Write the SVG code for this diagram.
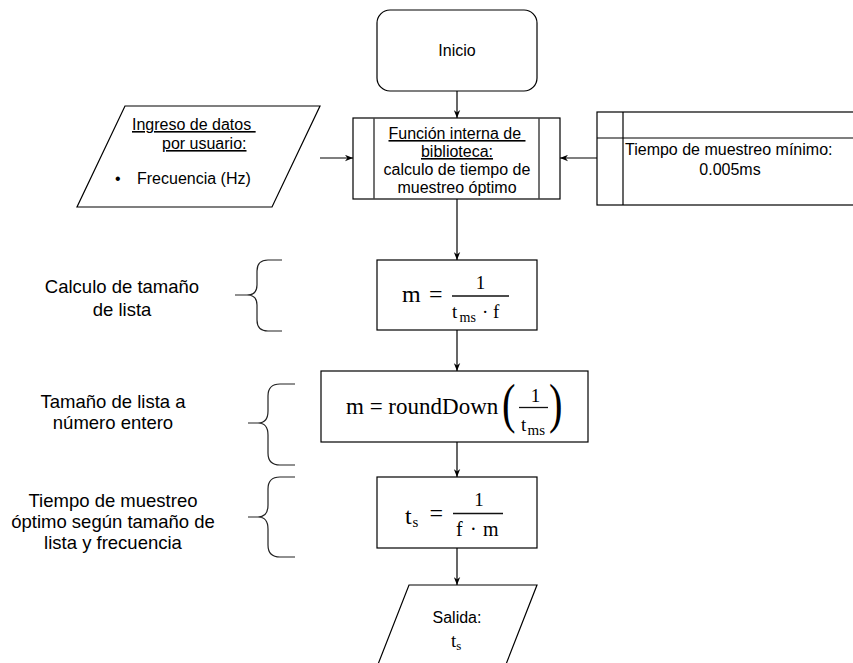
<svg xmlns="http://www.w3.org/2000/svg" width="853" height="663" viewBox="0 0 853 663">
  <defs>
    <marker id="arrow" viewBox="0 0 10 8" refX="10" refY="4" markerWidth="8" markerHeight="7" markerUnits="userSpaceOnUse" orient="auto">
      <path d="M0,0 L10,4 L0,8 L3,4 z" fill="#000"/>
    </marker>
    <style>
      .box { fill: #fff; stroke: #000; stroke-width: 1.2; }
      .line { fill: none; stroke: #000; stroke-width: 1.2; }
      .bar { fill: none; stroke: #111; stroke-width: 1.3; }
      .inner { fill: none; stroke: #444; stroke-width: 1.5; }
      .brace { fill: none; stroke: #222; stroke-width: 1.2; }
      .edge { fill: none; stroke: #000; stroke-width: 1.2; marker-end: url(#arrow); }
      .t { font-family: "Liberation Sans", Arial, sans-serif; font-size: 16px; fill: #000; }
      .lbl { font-family: "Liberation Sans", Arial, sans-serif; font-size: 18.5px; fill: #000; text-anchor: middle; }
      .m { font-family: "Liberation Serif", "Times New Roman", serif; fill: #000; }
      .u { text-decoration: underline; }
      .c { text-anchor: middle; }
    </style>
  </defs>

  <rect width="853" height="663" fill="#fff"/>

  <!-- connectors -->
  <g id="connectors">
    <line class="edge" x1="457" y1="91" x2="457" y2="118"/>
    <line class="edge" x1="320" y1="158" x2="353" y2="158"/>
    <line class="edge" x1="597" y1="158" x2="560" y2="158"/>
    <line class="edge" x1="457" y1="199" x2="457" y2="260"/>
    <line class="edge" x1="457" y1="330" x2="457" y2="371"/>
    <line class="edge" x1="457" y1="442" x2="457" y2="477"/>
    <line class="edge" x1="457" y1="548" x2="457" y2="585"/>
  </g>

  <!-- start -->
  <g id="inicio">
    <rect class="box" x="377" y="10" width="160" height="81" rx="13"/>
    <text class="t c" x="457" y="56">Inicio</text>
  </g>

  <!-- user input -->
  <g id="ingreso">
    <polygon class="box" points="125,106 320,106 272,207 77,207"/>
    <text class="t u" x="132" y="130">Ingreso de datos&#160;</text>
    <text class="t u" x="162" y="149">por usuario:</text>
    <text class="t" x="115" y="184">•</text>
    <text class="t" x="137" y="184">Frecuencia (Hz)</text>
  </g>

  <!-- library function -->
  <g id="funcion">
    <rect class="box" x="353" y="118" width="207" height="81"/>
    <line class="inner" x1="374" y1="118" x2="374" y2="199"/>
    <line class="inner" x1="539" y1="118" x2="539" y2="199"/>
    <text class="t c" x="457" y="139"><tspan class="u">Función interna de&#160;</tspan></text>
    <text class="t c" x="457" y="157"><tspan class="u">biblioteca:</tspan></text>
    <text class="t c" x="457" y="175">calculo de tiempo de</text>
    <text class="t c" x="457" y="193">muestreo óptimo</text>
  </g>

  <!-- minimum sampling time -->
  <g id="tiempo-minimo">
    <rect class="box" x="597" y="112" width="270" height="93"/>
    <line class="line" x1="623" y1="112" x2="623" y2="205"/>
    <line class="line" x1="597" y1="138" x2="867" y2="138"/>
    <text class="t" x="625" y="155">Tiempo de muestreo mínimo:</text>
    <text class="t c" x="730" y="175">0.005ms</text>
  </g>

  <!-- list size: m = 1 / (t_ms · f) -->
  <g id="tamano-lista">
    <text class="lbl" x="122" y="293">Calculo de tamaño</text>
    <text class="lbl" x="122" y="316">de lista</text>
    <path class="brace" d="M282,260 H268 Q257,260 257,271 V285 Q257,295 247,295 H235 M247,295 Q257,295 257,305 V320 Q257,331 268,331 H282"/>
    <rect class="box" x="377" y="260" width="160" height="70"/>
    <text class="m" x="402" y="302" font-size="24">m</text>
    <text class="m" x="429" y="302" font-size="24">=</text>
    <line class="bar" x1="452" y1="296" x2="509" y2="296"/>
    <text class="m c" x="480.5" y="288.5" font-size="19">1</text>
    <text class="m" x="452" y="318" font-size="19">t</text>
    <text class="m" x="459.5" y="322" font-size="14">ms</text>
    <text class="m" x="482" y="318" font-size="19">·</text>
    <text class="m" x="493" y="318" font-size="19">f</text>
  </g>

  <!-- integer list size: m = roundDown(1 / t_ms) -->
  <g id="entero">
    <text class="lbl" x="113" y="408">Tamaño de lista a</text>
    <text class="lbl" x="113" y="429">número entero</text>
    <path class="brace" d="M295,384 H280 Q268,384 268,396 V411 Q268,423 258,423 H248 M258,423 Q268,423 268,435 V453 Q268,465 280,465 H295"/>
    <rect class="box" x="321" y="371" width="267" height="71"/>
    <text class="m" x="346" y="414" font-size="23">m = roundDown</text>
    <text class="m" transform="translate(502,422) scale(0.75,1)" font-size="54">(</text>
    <line class="bar" x1="519" y1="407.5" x2="548" y2="407.5"/>
    <text class="m c" x="535.5" y="402" font-size="19">1</text>
    <text class="m" x="521" y="431" font-size="19">t</text>
    <text class="m" x="527.5" y="434.5" font-size="15">ms</text>
    <text class="m" transform="translate(549,422) scale(0.75,1)" font-size="54">)</text>
  </g>

  <!-- optimal sampling time: t_s = 1 / (f · m) -->
  <g id="tiempo-optimo">
    <text class="lbl" x="113" y="507">Tiempo de muestreo</text>
    <text class="lbl" x="113" y="528">óptimo según tamaño de</text>
    <text class="lbl" x="113" y="549">lista y frecuencia</text>
    <path class="brace" d="M295,477 H280 Q268,477 268,489 V505 Q268,517 258,517 H248 M258,517 Q268,517 268,529 V545 Q268,557 280,557 H295"/>
    <rect class="box" x="377" y="477" width="160" height="71"/>
    <text class="m" x="405" y="524" font-size="24">t</text>
    <text class="m" x="412.5" y="527" font-size="15">s</text>
    <text class="m" x="429.5" y="521" font-size="24">=</text>
    <line class="bar" x1="453" y1="513.5" x2="503" y2="513.5"/>
    <text class="m c" x="479" y="505.5" font-size="19">1</text>
    <text class="m" x="456" y="535.5" font-size="20">f</text>
    <text class="m" x="470" y="535.5" font-size="20">·</text>
    <text class="m" x="483" y="535.5" font-size="20">m</text>
  </g>

  <!-- output -->
  <g id="salida">
    <polygon class="box" points="409,585 537,585 503,672 375,672"/>
    <text class="t c" x="457" y="623">Salida:</text>
    <text class="m" x="451" y="647" font-size="19">t<tspan font-size="13" dy="3">s</tspan></text>
  </g>
</svg>
